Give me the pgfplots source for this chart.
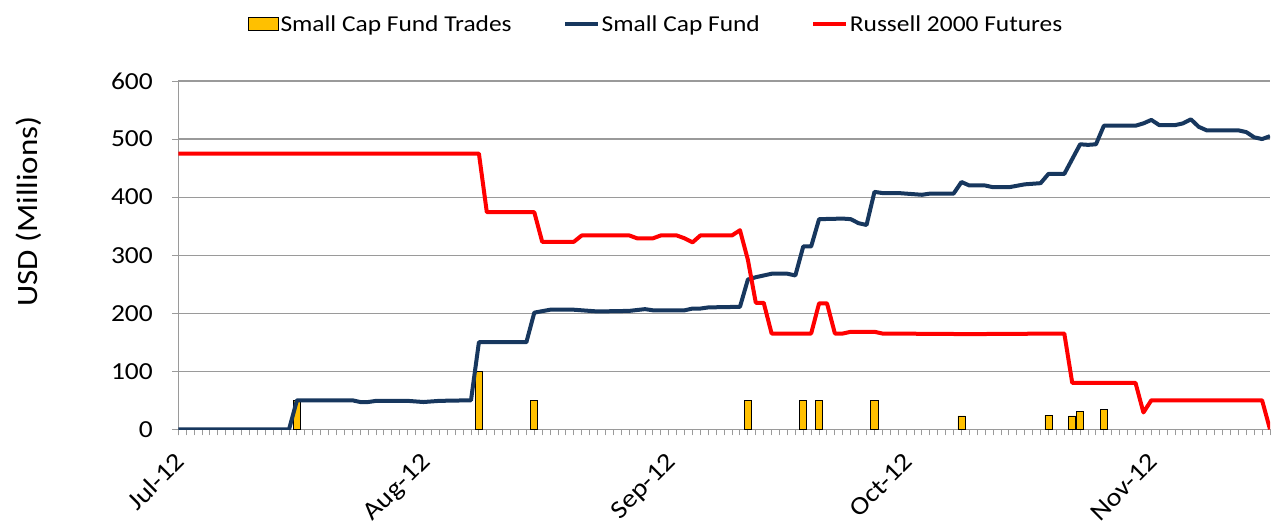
\documentclass[border=0pt]{standalone}
\usepackage{fontspec}
\setmainfont{Carlito}[FakeStretch=1.12]
\usepackage{pgfplots}
\pgfplotsset{compat=1.18}
\definecolor{fundblue}{HTML}{17375E}
\definecolor{tradegold}{HTML}{FFC000}
\definecolor{gridgray}{HTML}{9A9A9A}
\begin{document}
\begin{tikzpicture}
\begin{axis}[
  scale only axis, width=1091.7pt, height=348.3pt,
  xmin=0, xmax=138, ymin=0, ymax=600,
  axis x line=bottom, axis y line=left,
  axis line style={-, gridgray, line width=1.2pt},
  ytick={0,100,...,600}, ymajorgrids,
  grid style={gridgray, line width=1.2pt},
  xtick={0,31,62,92,123},
  xticklabels={Jul-12,Aug-12,Sep-12,Oct-12,Nov-12},
  minor xtick={0,1,...,138},
  tick align=outside, major tick length=6pt, minor tick length=6pt,
  tick style={gridgray, line width=1pt},
  xticklabel style={xshift=8pt, yshift=-28pt, rotate=45, anchor=base east, inner sep=0pt, font=\fontsize{25.5}{25.5}\selectfont},
  yticklabel style={xshift=-16pt, font=\fontsize{24.5}{24.5}\selectfont},
  /pgf/number format/assume math mode=true,
  ylabel={USD (Millions)},
  ylabel style={at={(axis description cs:-0.137,0.625)}, anchor=center, font=\fontsize{29.5}{29.5}\selectfont},
  legend columns=3,
  legend style={at={(axis description cs:0.4376,1.1637)}, anchor=center, draw=none, fill=none,
    font=\fontsize{22.7}{22.7}\selectfont, inner sep=0pt,
    nodes={inner xsep=1.5pt, inner ysep=2pt},
    /tikz/every even column/.append style={column sep=50pt}},
]
\addlegendimage{legend image code/.code={\draw[fill=tradegold, draw=black, line width=0.8pt] (0pt,-6.5pt) rectangle (30pt,6.5pt);}}
\addlegendentry{Small Cap Fund Trades}
\addlegendimage{legend image code/.code={\draw[fundblue, line width=4pt] (0pt,0pt) -- (33pt,0pt);}}
\addlegendentry{Small Cap Fund}
\addlegendimage{legend image code/.code={\draw[red, line width=4pt] (0pt,0pt) -- (33pt,0pt);}}
\addlegendentry{Russell 2000 Futures}
\addplot[ybar, bar width=0.9, fill=tradegold, draw=black, line width=0.8pt, forget plot]
  coordinates {(15,50)(38,100)(45,50)(72,50)(79,50)(81,50)(88,50)(99,23)(110,24)(113,23)(114,30)(117,34)};
\addplot[fundblue, line width=4pt, line join=round, forget plot]
  coordinates {(0,0)(14,0)(15,50)(20,50)(22,50)(23,47)(24,47)(25,49)(29,49)(31,47)(32,48)(33,49)(37,50)(38,150)(44,150)(45,201)(47,206)(50,206)(53,203)(57,204)(59,207)(60,205)(64,205)(65,208)(66,208)(67,210)(71,211)(72,258)(73,262)(75,268)(77,268)(78,265)(79,315)(80,315)(81,362)(84,363)(85,362)(86,355)(87,352)(88,409)(89,407)(91,407)(94,404)(95,406)(98,406)(99,426)(100,420)(102,420)(103,417)(105,417)(107,422)(109,424)(110,440)(112,440)(114,491)(115,490)(116,491)(117,523)(121,523)(122,527)(123,533)(124,524)(126,524)(127,527)(128,534)(129,521)(130,515)(134,515)(135,512)(136,503)(137,500)(138,505)};
\addplot[red, line width=4pt, line join=round, forget plot]
  coordinates {(0,475)(38,475)(39,374)(45,374)(46,323)(50,323)(51,334)(57,334)(58,329)(60,329)(61,334)(63,334)(64,329)(65,322)(66,334)(70,334)(71,343)(72,292)(73,218)(74,218)(75,165)(80,165)(81,217)(82,217)(83,165)(84,165)(85,168)(88,168)(89,165)(100,164)(112,165)(113,80)(121,80)(122,29)(123,50)(137,50)(138,0)};
\end{axis}
\pgfresetboundingbox
\path ([shift={(-178.3pt,-93.7pt)}]current axis.south west) rectangle ++(1273pt,523pt);
\end{tikzpicture}
\end{document}
